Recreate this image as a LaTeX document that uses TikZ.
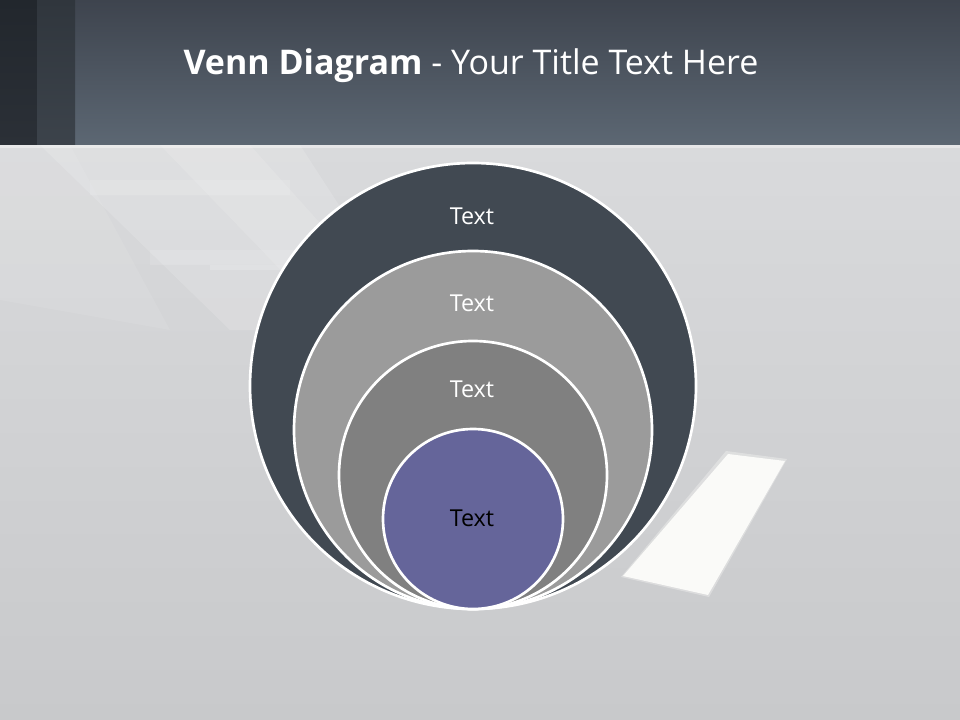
\documentclass[tikz,border=0pt]{standalone}
\usepackage{fontspec}
\setmainfont{Open Sans}
\usetikzlibrary{calc}
\definecolor{hdtop}{HTML}{3E444E}
\definecolor{hdbot}{HTML}{5C6773}
\definecolor{stripA}{HTML}{22272D}
\definecolor{stripAb}{HTML}{2B3037}
\definecolor{stripB}{HTML}{30363D}
\definecolor{stripBb}{HTML}{3C434B}
\definecolor{bgtop}{HTML}{D9DADC}
\definecolor{bgbot}{HTML}{C8C9CB}
\definecolor{ringA}{HTML}{414952}
\definecolor{ringB}{HTML}{9B9B9B}
\definecolor{ringC}{HTML}{808080}
\definecolor{ringD}{HTML}{65659A}
\definecolor{patch}{HTML}{FAFAF8}
\tikzset{
  ring/.style={circle, draw=white, line width=2pt, inner sep=0pt},
  ringlabel/.style={font=\fontsize{17.5}{21}\selectfont, text=white},
}
\begin{document}
\begin{tikzpicture}[x=0.75pt,y=-0.75pt]
\useasboundingbox (0,0) rectangle (960,720);
% background
\shade[top color=bgtop, bottom color=bgbot] (0,145) rectangle (960,720);
\fill[white, opacity=0.14] (40,145) -- (300,145) -- (420,330) -- (230,330) -- cycle;
\fill[white, opacity=0.12] (160,145) -- (250,145) -- (380,290) -- (300,290) -- cycle;
\fill[white, opacity=0.08] (0,145) -- (70,145) -- (170,330) -- (0,300) -- cycle;
\fill[white, opacity=0.12] (90,180) rectangle (290,195);
\fill[white, opacity=0.12] (150,250) rectangle (330,265);
\fill[white, opacity=0.18] (210,265) rectangle (320,270);
% light patch
\fill[patch, opacity=0.35] (726,451) -- (787,459) -- (709,597) -- (621,577) -- cycle;
\fill[patch] (728,454) -- (785,461) -- (708,595) -- (623,576) -- cycle;
% header
\shade[top color=hdtop, bottom color=hdbot] (0,0) rectangle (960,145);
\shade[top color=stripA, bottom color=stripAb] (0,0) rectangle (37,145);
\shade[top color=stripB, bottom color=stripBb] (37,0) rectangle (75,145);
\fill[white, opacity=0.35] (0,145) rectangle (960,148);
\node[anchor=base, text=white, font=\fontsize{25.5}{30}\selectfont] (title) at (471,75)
  {\textbf{Venn Diagram} - Your Title Text Here};
% circles
\node[ring, fill=ringA, minimum size=334.5pt] (c1) at (473,386) {};
\node[ring, fill=ringB, minimum size=268.5pt] (c2) at (473,430) {};
\node[ring, fill=ringC, minimum size=201pt] (c3) at (473,475) {};
\node[ring, fill=ringD, minimum size=135pt] (c4) at (473,519) {};
\node[ringlabel] (t1) at (472,216) {Text};
\node[ringlabel] (t2) at (472,303) {Text};
\node[ringlabel] (t3) at (472,389) {Text};
\node[ringlabel, text=black] (t4) at (472,518) {Text};
\end{tikzpicture}
\end{document}
